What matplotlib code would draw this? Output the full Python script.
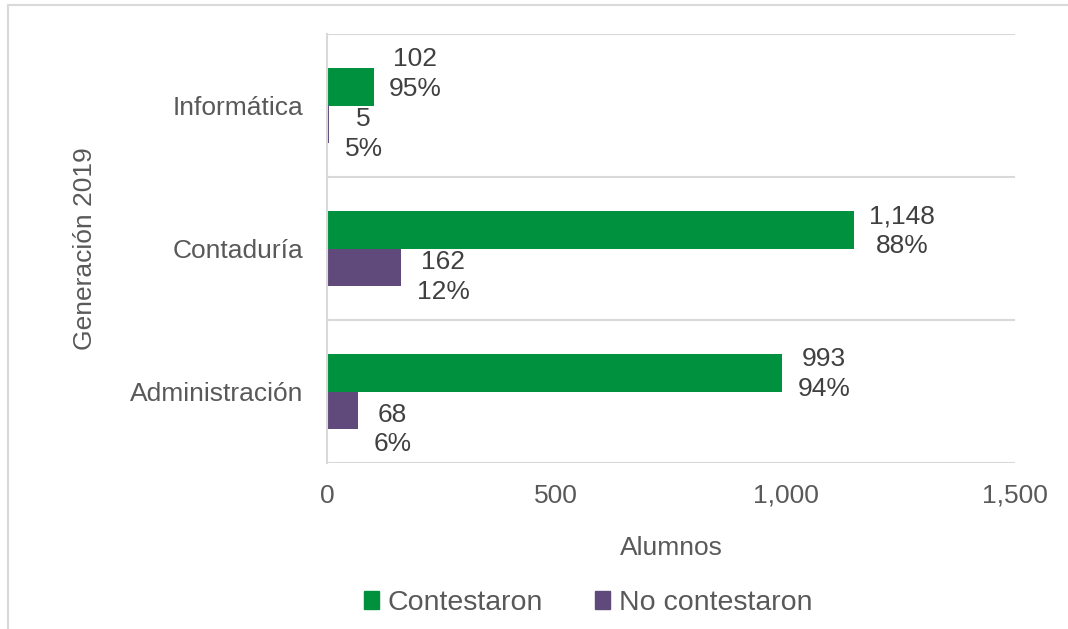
import matplotlib
matplotlib.use("Agg")
import matplotlib.pyplot as plt
import matplotlib.patches as mpatches
import numpy as np

plt.rcParams['font.family'] = ['Liberation Sans', 'DejaVu Sans']

categories = ["Administración", "Contaduría", "Informática"]
contestaron = [993, 1148, 102]
no_contestaron = [68, 162, 5]
series_names = ["Contestaron", "No contestaron"]
xticks = [0, 500, 1000, 1500]
xtick_labels = ["0", "500", "1,000", "1,500"]

green = "#00913F"
purple = "#604A7B"
text_dark = "#404040"
text_mid = "#595959"
grid_c = "#D9D9D9"
FS = 19

W, H = 1068, 629
fig = plt.figure(figsize=(W / 100, H / 100), dpi=100)
ax = fig.add_axes([327 / W, 1 - 463 / H, (1015 - 327) / W, (463 - 34) / H])

y = np.arange(len(categories))
bh = 0.26
ax.barh(y + bh / 2, contestaron, height=bh, color=green, label=series_names[0])
ax.barh(y - bh / 2, no_contestaron, height=bh, color=purple, label=series_names[1])

ax.set_xlim(0, 1500)
ax.set_ylim(-0.5, len(categories) - 0.5)
ax.set_xticks(xticks)
ax.set_xticklabels(xtick_labels)
ax.set_yticks(y)
ax.set_yticklabels(categories)
ax.tick_params(axis='both', length=0, labelsize=FS, colors=text_mid)
ax.tick_params(axis='x', pad=15)
ax.tick_params(axis='y', pad=17)

for yy in np.arange(-0.5, len(categories), 1.0):
    ax.axhline(yy, color=grid_c, lw=1.5, zorder=0)
for s in ["top", "right", "bottom"]:
    ax.spines[s].set_visible(False)
ax.spines["left"].set_color(grid_c)
ax.spines["left"].set_linewidth(1.5)

ax.set_xlabel("Alumnos", fontsize=FS, color=text_mid, labelpad=20)
ax.set_ylabel("Generación 2019", fontsize=FS, color=text_mid, labelpad=24)

# label vertical offsets (points) for readability, per category index
off_green = [-1, -1, 9.5]
off_purple = [-14, -7, -7]

def add_labels(vals, totals, ypos, offs):
    for v, t, yy, o in zip(vals, totals, ypos, offs):
        pct = round(100 * v / t)
        ax.annotate(f"{v:,}\n{pct}%", xy=(v, yy), xytext=(11, o),
                    textcoords="offset points", ha="left", va="center",
                    multialignment="center", fontsize=FS, color=text_dark,
                    linespacing=1.3)

totals = [a + b for a, b in zip(contestaron, no_contestaron)]
add_labels(contestaron, totals, y + bh / 2, off_green)
add_labels(no_contestaron, totals, y - bh / 2, off_purple)

handles = [mpatches.Patch(color=green), mpatches.Patch(color=purple)]
fig.legend(handles, series_names, loc="center", bbox_to_anchor=(588 / W, 1 - 603 / H),
           ncol=2, frameon=False, fontsize=20.5, handlelength=0.55, handleheight=0.55,
           handletextpad=0.3, columnspacing=1.8, labelcolor=text_mid)

# outer border (left and top)
fig.add_artist(plt.Line2D([8 / W, 8 / W], [0, 1 - 5 / H], transform=fig.transFigure,
                          color=grid_c, lw=1.5))
fig.add_artist(plt.Line2D([8 / W, 1], [1 - 5 / H, 1 - 5 / H], transform=fig.transFigure,
                          color=grid_c, lw=1.5))

fig.savefig("out.png", dpi=100, facecolor="white")
